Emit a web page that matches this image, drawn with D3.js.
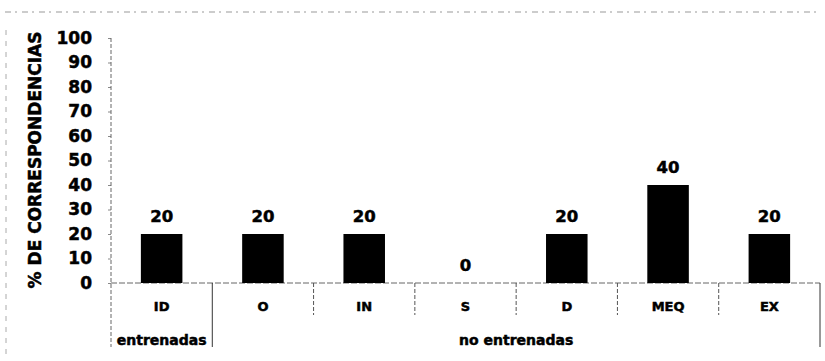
<!DOCTYPE html>
<html>
<head>
<meta charset="utf-8">
<script src="https://cdn.jsdelivr.net/npm/d3@7"></script>
<style>
  body { margin: 0; background: #fff; }
  svg { display: block; }
  text { stroke: #000; stroke-width: 0.5px; }
</style>
</head>
<body>
<div id="chart"></div>
<script>
// data
const categories = ["ID", "O", "IN", "S", "D", "MEQ", "EX"];
const values = [20, 20, 20, 0, 20, 40, 20];
const groupLabels = ["entrenadas", "no entrenadas"];
const groupSpans = [[0, 1], [1, 7]]; // category index ranges per group
const yTicks = [0, 10, 20, 30, 40, 50, 60, 70, 80, 90, 100];

const width = 825;
const height = 361;
const plotLeft = 111, plotRight = 820, plotBase = 283, plotTop = 38;
const font = "'DejaVu Sans', sans-serif";

const svg = d3.select("#chart")
    .append("svg")
    .attr("width", width)
    .attr("height", height);

// scales
const xScale = d3.scaleBand()
    .domain(categories)
    .range([plotLeft, plotRight])
    .paddingInner(0.59)
    .paddingOuter(0.295);

const yScale = d3.scaleLinear()
    .domain([0, 100])
    .range([plotBase, plotTop]);

const step = xScale.step();
const edge = i => plotLeft + i * step;
const isGroupStart = i => groupSpans.some(s => s[0] === i);

// faint scan frame
svg.append("line")
    .attr("x1", 5).attr("x2", 820).attr("y1", 12).attr("y2", 12)
    .attr("stroke", "#999").attr("stroke-width", 1)
    .attr("stroke-dasharray", "6,4,2,5");
svg.append("line")
    .attr("x1", 6).attr("x2", 6).attr("y1", 30).attr("y2", 355)
    .attr("stroke", "#aaa").attr("stroke-width", 1)
    .attr("stroke-dasharray", "5,6");

// y axis
const yAxis = svg.append("g")
    .attr("transform", `translate(${plotLeft},0)`)
    .call(d3.axisLeft(yScale).tickValues(yTicks).tickSize(3).tickPadding(16));
yAxis.select(".domain").remove();
yAxis.selectAll(".tick line").attr("stroke", "#888");
yAxis.selectAll(".tick text")
    .style("font-family", font)
    .style("font-size", "17px")
    .style("font-weight", "bold")
    .attr("fill", "#000");

svg.append("line")
    .attr("x1", plotLeft).attr("x2", plotLeft).attr("y1", plotTop).attr("y2", 347)
    .attr("stroke", "#666").attr("stroke-width", 1)
    .attr("stroke-dasharray", "4,2");

// baseline
svg.append("line")
    .attr("x1", plotLeft).attr("x2", plotRight).attr("y1", plotBase).attr("y2", plotBase)
    .attr("stroke", "#666").attr("stroke-width", 1)
    .attr("stroke-dasharray", "6,2");

// category separators; the one that starts a group runs down through the group row
svg.selectAll(".sep")
    .data(d3.range(1, categories.length))
    .enter()
    .append("line")
    .attr("class", "sep")
    .attr("x1", i => edge(i)).attr("x2", i => edge(i))
    .attr("y1", plotBase)
    .attr("y2", i => isGroupStart(i) ? 347 : 315)
    .attr("stroke", i => isGroupStart(i) ? "#333" : "#555")
    .attr("stroke-width", 1)
    .attr("stroke-dasharray", i => isGroupStart(i) ? null : "4,2");

// right edge
svg.append("line")
    .attr("x1", edge(categories.length)).attr("x2", edge(categories.length))
    .attr("y1", plotBase).attr("y2", 347)
    .attr("stroke", "#333").attr("stroke-width", 1);

// bars
svg.selectAll(".bar")
    .data(values)
    .enter()
    .append("rect")
    .attr("class", "bar")
    .attr("x", (d, i) => xScale(categories[i]))
    .attr("width", xScale.bandwidth())
    .attr("y", d => yScale(d))
    .attr("height", d => plotBase - yScale(d))
    .attr("fill", "#000");

// value labels
svg.selectAll(".bar-label")
    .data(values)
    .enter()
    .append("text")
    .attr("class", "bar-label")
    .attr("x", (d, i) => xScale(categories[i]) + xScale.bandwidth() / 2)
    .attr("y", d => yScale(d) - 12)
    .attr("text-anchor", "middle")
    .style("font-family", font)
    .style("font-size", "16.5px")
    .style("font-weight", "bold")
    .text(d => d);

// category labels
svg.selectAll(".cat-label")
    .data(categories)
    .enter()
    .append("text")
    .attr("class", "cat-label")
    .attr("x", d => xScale(d) + xScale.bandwidth() / 2)
    .attr("y", 311)
    .attr("text-anchor", "middle")
    .style("font-family", font)
    .style("font-size", "13px")
    .style("font-weight", "bold")
    .text(d => d);

// group labels
svg.selectAll(".group-label")
    .data(groupLabels)
    .enter()
    .append("text")
    .attr("class", "group-label")
    .attr("x", (d, i) => (edge(groupSpans[i][0]) + edge(groupSpans[i][1])) / 2)
    .attr("y", 345)
    .attr("text-anchor", "middle")
    .style("font-family", font)
    .style("font-size", "14px")
    .style("font-weight", "bold")
    .text(d => d);

// y axis title
svg.append("text")
    .text("% DE CORRESPONDENCIAS")
    .attr("transform", "translate(41,160) rotate(-90)")
    .attr("text-anchor", "middle")
    .style("font-family", font)
    .style("font-size", "17px")
    .style("font-weight", "bold");
</script>
</body>
</html>
